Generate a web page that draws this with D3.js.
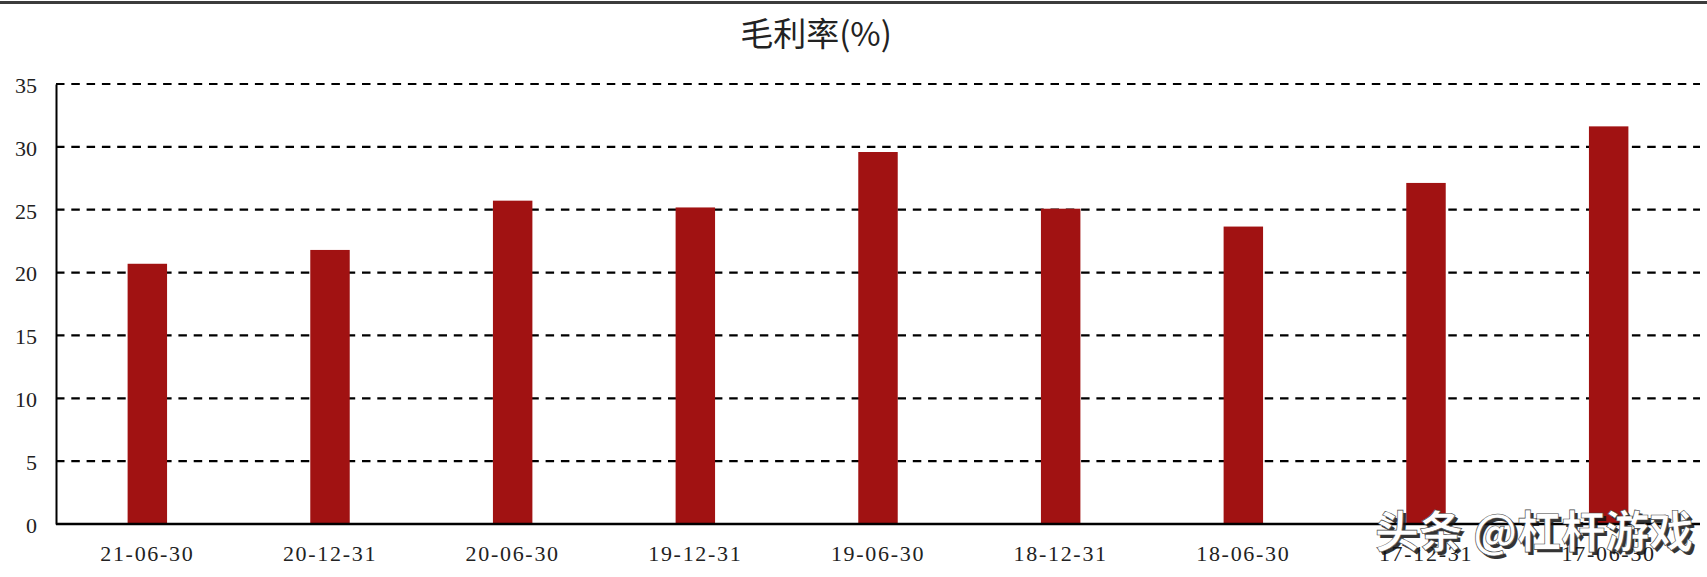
<!DOCTYPE html>
<html lang="zh">
	<head>
		<meta charset="utf-8">
		<title>毛利率</title>
		<script src="https://d3js.org/d3.v7.min.js"></script>
		<style>
			body { margin: 0; background: #fff; }
			.tick-label { font-family: "Liberation Serif", "DejaVu Serif", serif; fill: #222; }
		</style>
	</head>
	<body>
		<div id="chart"></div>
	<script>
	// data
	const categories = ["21-06-30", "20-12-31", "20-06-30", "19-12-31", "19-06-30", "18-12-31", "18-06-30", "17-12-31", "17-06-30"];
	const grossMargin = [20.7, 21.8, 25.72, 25.18, 29.59, 25.08, 23.66, 27.13, 31.63];
	const yTicks = [0, 5, 10, 15, 20, 25, 30, 35];
	const titleText = "毛利率(%)";
	const watermark = "头条 @杠杆游戏";

	const width = 1707;
	const height = 577;
	const margin = { top: 84, right: 7, bottom: 53, left: 56 };

	const svg = d3.select("#chart")
		.append("svg")
		.attr("width", width)
		.attr("height", height);

	// top border strip
	svg.append("line")
		.attr("x1", 0).attr("x2", width)
		.attr("y1", 2.5).attr("y2", 2.5)
		.attr("stroke", "#3c3c3c")
		.attr("stroke-width", 3);

	const x = d3.scaleBand()
		.domain(categories)
		.range([margin.left, width - margin.right])
		.paddingInner(0.784)
		.paddingOuter(0.392);

	const y = d3.scaleLinear()
		.domain([0, 35])
		.range([height - margin.bottom, margin.top]);

	// dashed grid lines
	svg.append("g")
		.selectAll("line")
		.data(yTicks.filter(d => d > 0))
		.join("line")
		.attr("x1", margin.left)
		.attr("x2", width - margin.right)
		.attr("y1", d => y(d))
		.attr("y2", d => y(d))
		.attr("stroke", "#000")
		.attr("stroke-width", 2.2)
		.attr("stroke-dasharray", "8.5,6.8");

	// bars
	svg.append("g")
		.attr("fill", "#a11212")
		.selectAll("rect")
		.data(grossMargin)
		.join("rect")
		.attr("x", (d, i) => x(categories[i]))
		.attr("y", d => y(d))
		.attr("width", x.bandwidth())
		.attr("height", d => y(0) - y(d));

	// y axis
	const yAxis = svg.append("g")
		.attr("transform", `translate(${margin.left},0)`)
		.call(d3.axisLeft(y).tickValues(yTicks).tickSize(0).tickPadding(19));
	yAxis.select(".domain").attr("stroke", "#000").attr("stroke-width", 2);
	yAxis.selectAll("text")
		.attr("class", "tick-label")
		.attr("font-size", 22)
		.attr("dy", "0.38em");

	// x axis
	const xAxis = svg.append("g")
		.attr("transform", `translate(0,${y(0)})`)
		.call(d3.axisBottom(x).tickSize(0).tickPadding(21));
	xAxis.select(".domain")
		.attr("d", `M${margin.left},0H${width - margin.right}`)
		.attr("stroke", "#000")
		.attr("stroke-width", 2.5);
	xAxis.selectAll("text")
		.attr("class", "tick-label")
		.attr("font-size", 22)
		.attr("letter-spacing", "1.7px")
		.attr("dy", "0.71em");

	// title
	svg.append("text")
		.attr("x", 816)
		.attr("y", 46)
		.attr("text-anchor", "middle")
		.style("font-family", "'Noto Sans CJK SC', sans-serif")
		.style("font-size", "33px")
		.style("fill", "#222")
		.text(titleText);

	// watermark in the corner
	const wm = svg.append("g")
		.style("font-family", "'Noto Sans CJK SC', sans-serif")
		.style("font-size", "44px")
		.style("font-weight", "bold");
	wm.append("text")
		.attr("x", 1378)
		.attr("y", 551)
		.attr("fill", "#111")
		.attr("opacity", 0.85)
		.text(watermark);
	wm.append("text")
		.attr("x", 1375)
		.attr("y", 548)
		.attr("fill", "#fff")
		.attr("stroke", "#444")
		.attr("stroke-width", 0.6)
		.text(watermark);
	</script>
	</body>
</html>
